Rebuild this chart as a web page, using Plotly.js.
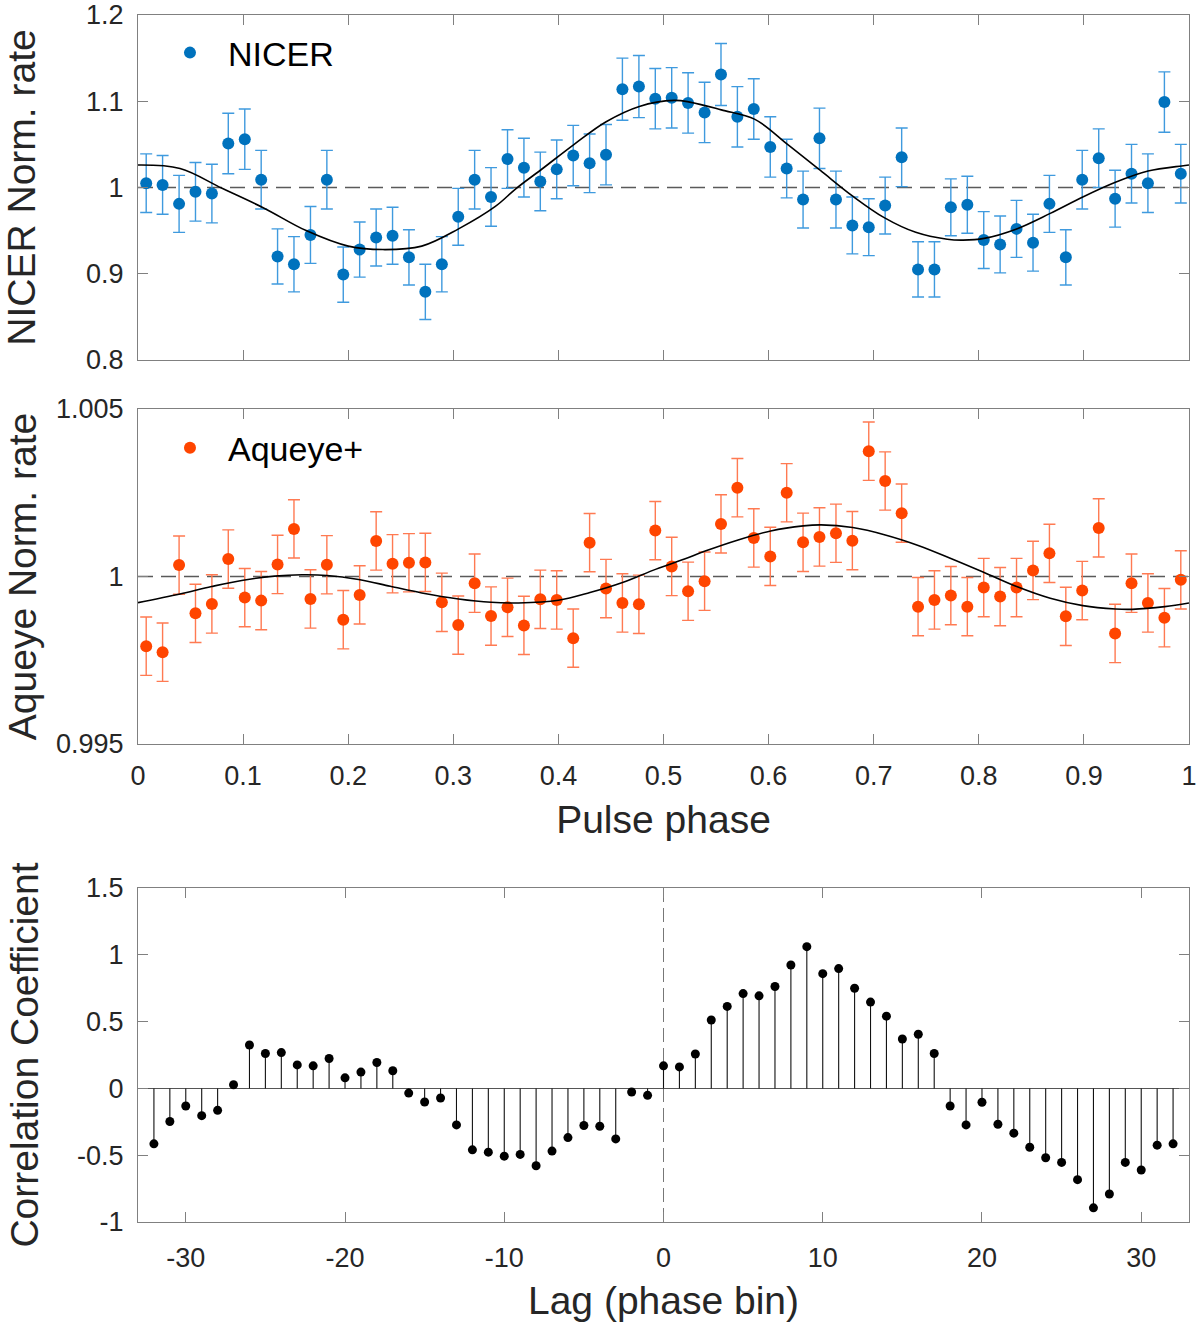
<!DOCTYPE html>
<html>
<head>
<meta charset="utf-8">
<script src="https://cdn.plot.ly/plotly-3.0.1.min.js"></script>
<style>html,body{margin:0;padding:0;background:#fff;}#chart{width:1200px;height:1323px;}</style>
</head>
<body>
<div id="chart"></div>
<script>
// ---- data ----
var phase = [0.0078,0.0234,0.0391,0.0547,0.0703,0.0859,0.1016,0.1172,0.1328,0.1484,0.1641,0.1797,0.1953,0.2109,0.2266,0.2422,
0.2578,0.2734,0.2891,0.3047,0.3203,0.3359,0.3516,0.3672,0.3828,0.3984,0.4141,0.4297,0.4453,0.4609,0.4766,0.4922,
0.5078,0.5234,0.5391,0.5547,0.5703,0.5859,0.6016,0.6172,0.6328,0.6484,0.6641,0.6797,0.6953,0.7109,0.7266,0.7422,
0.7578,0.7734,0.7891,0.8047,0.8203,0.8359,0.8516,0.8672,0.8828,0.8984,0.9141,0.9297,0.9453,0.9609,0.9766,0.9922];

var nicerRate = [1.005,1.003,0.981,0.995,0.993,1.051,1.056,1.009,0.920,0.911,0.945,1.009,0.899,0.928,0.942,0.944,
0.919,0.879,0.911,0.966,1.009,0.989,1.033,1.023,1.007,1.021,1.037,1.028,1.038,1.114,1.117,1.103,
1.104,1.098,1.087,1.131,1.082,1.091,1.047,1.022,0.986,1.057,0.986,0.956,0.954,0.979,1.035,0.905,
0.905,0.977,0.980,0.939,0.934,0.952,0.936,0.981,0.919,1.009,1.034,0.987,1.016,1.005,1.099,1.016];

var nicerErr = [0.034,0.034,0.033,0.034,0.034,0.035,0.035,0.034,0.032,0.032,0.033,0.034,0.032,0.032,0.033,0.033,
0.032,0.032,0.032,0.033,0.034,0.034,0.034,0.034,0.034,0.034,0.035,0.034,0.035,0.036,0.036,0.035,
0.035,0.035,0.035,0.036,0.035,0.035,0.035,0.034,0.033,0.035,0.033,0.033,0.033,0.033,0.034,0.032,
0.032,0.033,0.033,0.033,0.033,0.033,0.033,0.033,0.032,0.034,0.034,0.033,0.034,0.034,0.035,0.034];

var nicerFitX = [0.0,0.04,0.08,0.12,0.16,0.20,0.233,0.27,0.305,0.34,0.36,0.385,0.415,0.445,0.477,0.51,0.525,0.555,0.587,0.618,0.649,0.68,0.71,0.74,0.77,0.785,0.805,0.836,0.868,0.899,0.93,0.961,0.993,1.0];
var nicerFitY = [1.026,1.022,0.999,0.976,0.950,0.932,0.928,0.932,0.952,0.978,0.999,1.022,1.050,1.076,1.094,1.101,1.099,1.090,1.079,1.050,1.020,0.990,0.965,0.948,0.940,0.939,0.941,0.952,0.970,0.989,1.006,1.019,1.025,1.026];

var aqRate = [0.99792,0.99774,1.00034,0.99890,0.99918,1.00052,0.99937,0.99928,1.00036,1.00142,0.99933,1.00035,0.99871,0.99945,1.00106,1.00038,
1.00041,1.00042,0.99923,0.99855,0.99980,0.99882,0.99908,0.99854,0.99932,0.99930,0.99816,1.00101,0.99964,0.99921,0.99917,1.00137,
1.00030,0.99956,0.99986,1.00157,1.00265,1.00115,1.00060,1.00250,1.00102,1.00118,1.00129,1.00107,1.00374,1.00285,1.00189,0.99910,
0.99930,0.99943,0.99910,0.99967,0.99940,0.99967,1.00018,1.00069,0.99881,0.99958,1.00145,0.99830,0.99980,0.99921,0.99877,0.99990];
var aqErr = 0.00087;

var aqFitX = [0.0,0.04,0.07,0.10,0.13,0.156,0.18,0.21,0.24,0.27,0.305,0.336,0.362,0.40,0.43,0.461,0.493,0.52,0.539,0.571,0.602,0.633,0.65,0.68,0.711,0.743,0.774,0.805,0.836,0.868,0.899,0.93,0.946,0.977,1.0];
var aqFitY = [0.99922,0.99948,0.99970,0.99989,1.00001,1.00005,1.00003,0.99991,0.99971,0.99951,0.99933,0.99923,0.99921,0.99929,0.99952,0.99982,1.00022,1.00052,1.00075,1.00109,1.00136,1.00151,1.00154,1.00146,1.00124,1.00092,1.00053,1.00012,0.99970,0.99935,0.99913,0.99903,0.99902,0.99910,0.99921];

var lag = [-32,-31,-30,-29,-28,-27,-26,-25,-24,-23,-22,-21,-20,-19,-18,-17,-16,-15,-14,-13,-12,-11,-10,-9,-8,-7,-6,-5,-4,-3,-2,-1,
0,1,2,3,4,5,6,7,8,9,10,11,12,13,14,15,16,17,18,19,20,21,22,23,24,25,26,27,28,29,30,31,32];
var corr = [-0.415,-0.248,-0.132,-0.204,-0.164,0.027,0.325,0.261,0.268,0.176,0.169,0.224,0.079,0.122,0.194,0.132,
-0.035,-0.102,-0.072,-0.273,-0.460,-0.477,-0.507,-0.494,-0.579,-0.469,-0.368,-0.278,-0.283,-0.378,-0.027,-0.052,
0.169,0.161,0.258,0.512,0.614,0.710,0.693,0.763,0.924,1.061,0.859,0.897,0.750,0.646,0.541,0.370,0.405,0.261,
-0.132,-0.273,-0.104,-0.268,-0.335,-0.440,-0.519,-0.554,-0.683,-0.894,-0.790,-0.554,-0.611,-0.425,-0.415];

var phaseTicks = [0,0.1,0.2,0.3,0.4,0.5,0.6,0.7,0.8,0.9,1];
var phaseTickText = ['0','0.1','0.2','0.3','0.4','0.5','0.6','0.7','0.8','0.9','1'];
var lagTicks = [-30,-20,-10,0,10,20,30];
var lagTickText = ['-30','-20','-10','0','10','20','30'];

// stems built from the data
var stemX = [], stemY = [];
for (var i = 0; i < lag.length; i++) { stemX.push(lag[i], lag[i], null); stemY.push(0, corr[i], null); }

var FONT = 'Liberation Sans, Arial, Helvetica, sans-serif';
var TXT = '#262626';
var AX = '#808080';
var TICKSZ = 27, TITLESZ = 39;

var traces = [
  {x: phase, y: nicerRate, type: 'scatter', mode: 'markers', name: 'NICER', xaxis: 'x', yaxis: 'y', legend: 'legend',
   marker: {color: '#0072BD', size: 12},
   error_y: {type: 'data', array: nicerErr, color: '#3f9ade', thickness: 1.4, width: 6}},
  {x: nicerFitX, y: nicerFitY, type: 'scatter', mode: 'lines', line: {color: '#000', width: 1.6, shape: 'spline'},
   xaxis: 'x', yaxis: 'y', showlegend: false, hoverinfo: 'skip'},
  {x: phase, y: aqRate, type: 'scatter', mode: 'markers', name: 'Aqueye+', xaxis: 'x2', yaxis: 'y2', legend: 'legend2',
   marker: {color: '#FF4500', size: 12},
   error_y: {type: 'constant', value: aqErr, color: '#ff7a52', thickness: 1.4, width: 6}},
  {x: aqFitX, y: aqFitY, type: 'scatter', mode: 'lines', line: {color: '#000', width: 1.6, shape: 'spline'},
   xaxis: 'x2', yaxis: 'y2', showlegend: false, hoverinfo: 'skip'},
  {x: stemX, y: stemY, type: 'scatter', mode: 'lines', line: {color: '#111', width: 1.1},
   xaxis: 'x3', yaxis: 'y3', showlegend: false, hoverinfo: 'skip'},
  {x: lag, y: corr, type: 'scatter', mode: 'markers', marker: {color: '#000', size: 9},
   xaxis: 'x3', yaxis: 'y3', showlegend: false}
];

function axBase(extra) {
  var a = {showline: true, linecolor: AX, linewidth: 1, mirror: 'ticks', ticks: 'inside', ticklen: 10, tickwidth: 1,
    tickcolor: AX, showgrid: false, zeroline: false, tickfont: {family: FONT, size: TICKSZ, color: TXT}, automargin: false};
  for (var k in extra) a[k] = extra[k];
  return a;
}

var layout = {
  width: 1200, height: 1323,
  margin: {l: 138, r: 11, t: 15, b: 101},
  paper_bgcolor: '#fff', plot_bgcolor: '#fff',
  font: {family: FONT, color: TXT},
  showlegend: true,
  xaxis: axBase({domain: [0, 1], range: [0, 1], tickvals: phaseTicks, showticklabels: false, anchor: 'y'}),
  yaxis: axBase({domain: [0.7142, 1], range: [0.8, 1.2], tickvals: [0.8, 0.9, 1, 1.1, 1.2], ticktext: ['0.8','0.9','1','1.1','1.2'],
    anchor: 'x', ticklabelstandoff: 8,
    title: {text: 'NICER Norm. rate', font: {family: FONT, size: TITLESZ, color: TXT}, standoff: 43}}),
  xaxis2: axBase({domain: [0, 1], range: [0, 1], tickvals: phaseTicks, ticktext: phaseTickText,
    anchor: 'y2', ticklabelstandoff: 8,
    title: {text: 'Pulse phase', font: {family: FONT, size: TITLESZ, color: TXT}, standoff: 15}}),
  yaxis2: axBase({domain: [0.3960, 0.6736], range: [0.995, 1.005], tickvals: [0.995, 1, 1.005], ticktext: ['0.995','1','1.005'],
    anchor: 'x2', ticklabelstandoff: 8,
    title: {text: 'Aqueye Norm. rate', font: {family: FONT, size: TITLESZ, color: TXT}, standoff: 7}}),
  xaxis3: axBase({domain: [0, 1], range: [-33, 33], tickvals: lagTicks, ticktext: lagTickText,
    anchor: 'y3', ticklabelstandoff: 12,
    title: {text: 'Lag (phase bin)', font: {family: FONT, size: TITLESZ, color: TXT}, standoff: 14}}),
  yaxis3: axBase({domain: [0, 0.2767], range: [-1, 1.5], tickvals: [-1, -0.5, 0, 0.5, 1, 1.5], ticktext: ['-1','-0.5','0','0.5','1','1.5'],
    anchor: 'x3', ticklabelstandoff: 8, zeroline: true, zerolinecolor: '#555', zerolinewidth: 1.1,
    title: {text: 'Correlation Coefficient', font: {family: FONT, size: TITLESZ, color: TXT}, standoff: 26}}),
  legend: {x: 0.0133, xanchor: 'left', y: 0.9685, yanchor: 'middle', bgcolor: 'rgba(0,0,0,0)', borderwidth: 0,
    font: {family: FONT, size: 34, color: '#000'}, itemwidth: 66},
  legend2: {x: 0.0133, xanchor: 'left', y: 0.6412, yanchor: 'middle', bgcolor: 'rgba(0,0,0,0)', borderwidth: 0,
    font: {family: FONT, size: 34, color: '#000'}, itemwidth: 66},
  shapes: [
    {type: 'line', xref: 'x', yref: 'y', x0: 0, x1: 1, y0: 1, y1: 1, line: {color: '#5a5a5a', width: 1.3, dash: '15px,8px'}, layer: 'below'},
    {type: 'line', xref: 'x2', yref: 'y2', x0: 0, x1: 1, y0: 1, y1: 1, line: {color: '#5a5a5a', width: 1.3, dash: '15px,8px'}, layer: 'below'},
    {type: 'line', xref: 'x3', yref: 'y3', x0: 0, x1: 0, y0: -1, y1: 1.5, line: {color: '#777', width: 1, dash: '14px,6px'}, layer: 'below'}
  ]
};

Plotly.newPlot('chart', traces, layout, {displayModeBar: false, staticPlot: true});
</script>
</body>
</html>
